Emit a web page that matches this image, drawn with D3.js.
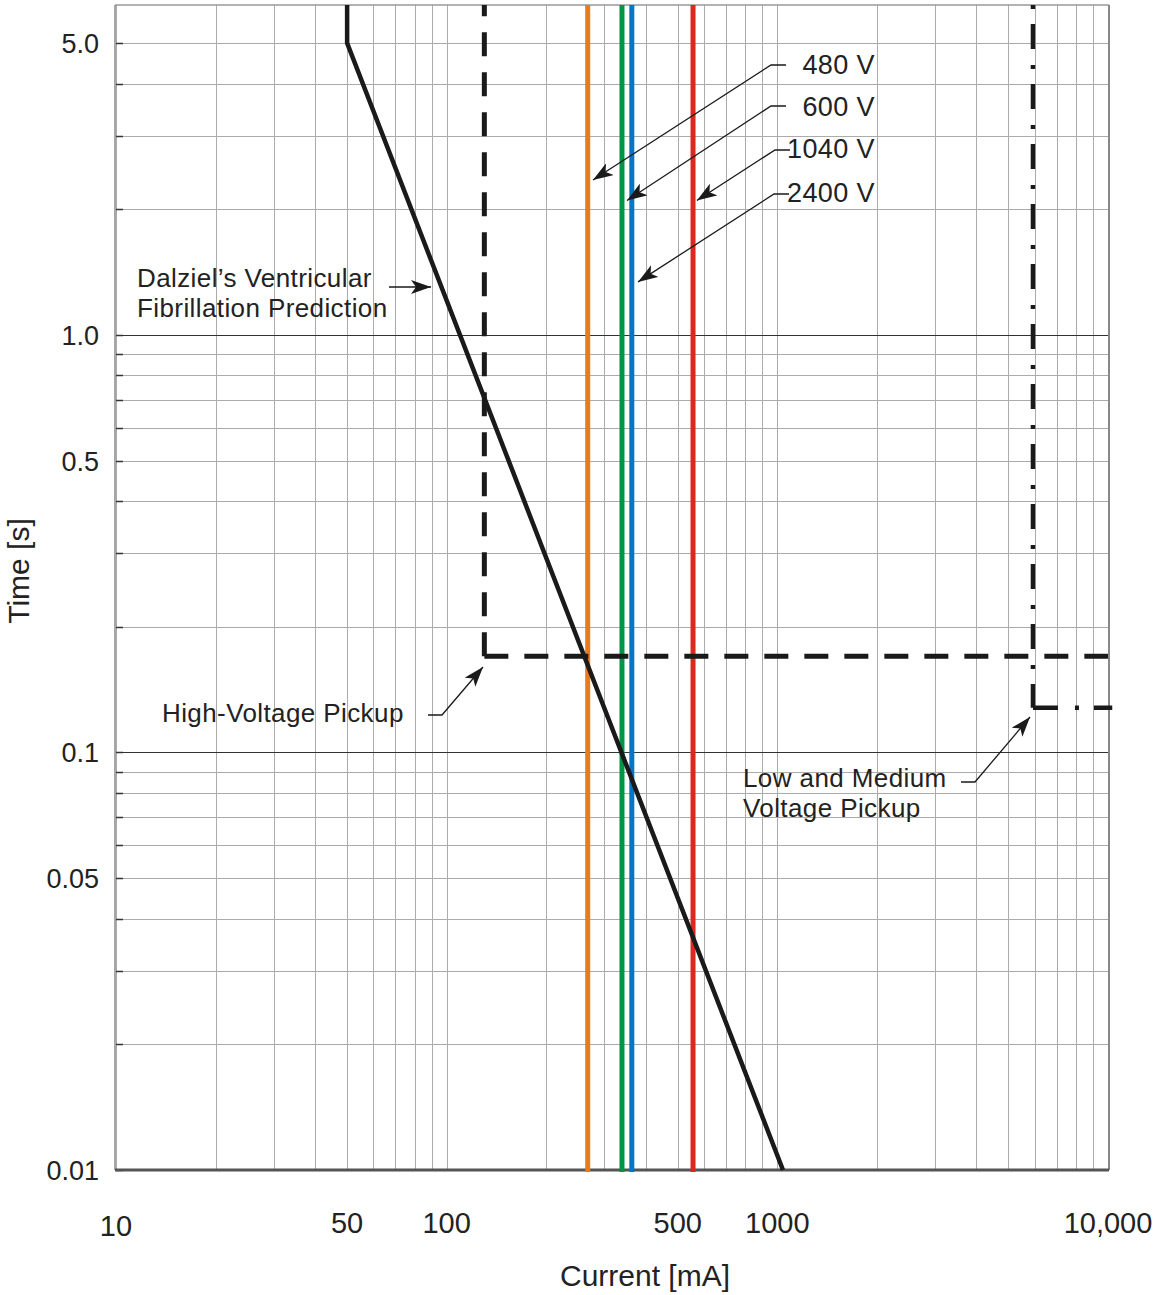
<!DOCTYPE html>
<meta charset="utf-8">
<style>
body { margin: 0; background: #fff; font-family: "Liberation Sans", Arial, sans-serif; }
svg { display: block; }
.tick-label { fill: #222; }
.note { font-size: 26px; fill: #222; letter-spacing: 0.4px; }
.grid line { stroke: #ababab; stroke-width: 1; shape-rendering: crispEdges; }
.grid line.major { stroke: #333; }
</style>
<div id="chart"></div>
<script src="https://cdn.jsdelivr.net/npm/d3@7"></script>
<script>
var WIDTH = 1156, HEIGHT = 1295;

// time (s) axis ticks, current (mA) axis ticks
var yTickValues = [0.01, 0.05, 0.1, 0.5, 1.0, 5.0];
var yTickText = ["0.01", "0.05", "0.1", "0.5", "1.0", "5.0"];
var xTickValues = [10, 50, 100, 500, 1000, 10000];
var xTickText = ["10", "50", "100", "500", "1000", "10,000"];

// Dalziel's ventricular fibrillation prediction [mA, s]
var dalziel = [[50, 6.17], [50, 5.0], [1040, 0.01]];
// pickup settings: top, corner, right end
var hvPickup = [[130, 6.17], [130, 0.17], [10000, 0.17]];
var lmvPickup = [[5930, 6.17], [5930, 0.128], [10300, 0.128]];

// fault currents per system voltage
var voltCurrents = [267, 339, 363, 556];
var voltColors = ["#ea7a1c", "#009444", "#0076c6", "#dc281e"];
var voltLabels = ["480 V", "600 V", "1040 V", "2400 V"];
// where each label's arrow points [mA, s]
var voltArrowTips = [[277, 2.35], [351, 2.1], [571, 2.1], [379, 1.34]];

var svg = d3.select("#chart").append("svg")
    .attr("width", WIDTH)
    .attr("height", HEIGHT);

var x = d3.scaleLog().domain([10, 10000]).range([116, 1108]);
var y = d3.scaleLog().domain([0.01, 6.17]).range([1170, 5]);

var defs = svg.append("defs");
defs.append("marker")
    .attr("id", "arrow")
    .attr("viewBox", "0 0 20 14")
    .attr("refX", 20).attr("refY", 7)
    .attr("markerWidth", 20).attr("markerHeight", 14)
    .attr("markerUnits", "userSpaceOnUse")
    .attr("orient", "auto")
  .append("path")
    .attr("d", "M0,0 L20,7 L0,14 L5,7 Z")
    .attr("fill", "#1a1a1a");

// grid
var xGrid = [], yGrid = [];
[10, 100, 1000].forEach(function(p) {
  for (var i = 1; i < 10; i++) xGrid.push(i * p);
});
xGrid.push(10000);
[0.01, 0.1, 1].forEach(function(p) {
  for (var i = 1; i < 10; i++) if (i * p <= 5.0001) yGrid.push(+(i * p).toFixed(3));
});

var grid = svg.append("g").attr("class", "grid");
grid.selectAll(".vx").data(xGrid).enter().append("line")
    .attr("x1", d => Math.round(x(d)) + 0.5).attr("x2", d => Math.round(x(d)) + 0.5)
    .attr("y1", y.range()[1]).attr("y2", y.range()[0]);
grid.selectAll(".hy").data(yGrid).enter().append("line")
    .attr("class", d => (d === 1 || d === 0.1) ? "major" : null)
    .attr("x1", x.range()[0]).attr("x2", x.range()[1])
    .attr("y1", d => Math.round(y(d)) + 0.5).attr("y2", d => Math.round(y(d)) + 0.5);

// small tick marks on left edge
svg.append("g").selectAll("line").data(yGrid).enter().append("line")
    .attr("x1", x.range()[0]).attr("x2", x.range()[0] + 7)
    .attr("y1", d => Math.round(y(d)) + 0.5).attr("y2", d => Math.round(y(d)) + 0.5)
    .attr("stroke", "#333").attr("stroke-width", 1.5);

// frame
var fr = svg.append("g").attr("fill", "none");
fr.append("line").attr("x1", 115).attr("x2", 115).attr("y1", 5).attr("y2", 1170).attr("stroke", "#888").attr("stroke-width", 1.5);
fr.append("line").attr("x1", 115).attr("x2", 1109).attr("y1", 5).attr("y2", 5).attr("stroke", "#999").attr("stroke-width", 1.5);
fr.append("line").attr("x1", 1109).attr("x2", 1109).attr("y1", 5).attr("y2", 1170).attr("stroke", "#888").attr("stroke-width", 2);
fr.append("line").attr("x1", 115).attr("x2", 1109).attr("y1", 1170).attr("y2", 1170).attr("stroke", "#555").attr("stroke-width", 3);

var line = d3.line().x(d => x(d[0])).y(d => y(d[1]));

// voltage lines
svg.append("g").selectAll("line").data(voltCurrents).enter().append("line")
    .attr("x1", d => x(d)).attr("x2", d => x(d))
    .attr("y1", y.range()[1]).attr("y2", y.range()[0] + 2)
    .attr("stroke", (d, i) => voltColors[i])
    .attr("stroke-width", 5);

// high-voltage pickup: dashes start at the corner in both directions
[[hvPickup[1], hvPickup[0]], [hvPickup[1], hvPickup[2]]].forEach(function(seg) {
  svg.append("path").datum(seg)
      .attr("d", line).attr("fill", "none")
      .attr("stroke", "#1a1a1a").attr("stroke-width", 5)
      .attr("stroke-dasharray", "24,16");
});
// low/medium voltage pickup (dash-dot)
svg.append("path").datum([lmvPickup[0], lmvPickup[1]])
    .attr("d", line).attr("fill", "none")
    .attr("stroke", "#1a1a1a").attr("stroke-width", 4.5)
    .attr("stroke-dasharray", "4,15,25,16");
svg.append("path").datum([lmvPickup[1], lmvPickup[2]])
    .attr("d", line).attr("fill", "none")
    .attr("stroke", "#1a1a1a").attr("stroke-width", 4.5)
    .attr("stroke-dasharray", "25,17,4,15");

// Dalziel curve
svg.append("path").datum(dalziel)
    .attr("d", line).attr("fill", "none")
    .attr("stroke", "#1a1a1a").attr("stroke-width", 4.5)
    .attr("stroke-linejoin", "miter");

// y tick labels
svg.append("g").selectAll("text").data(yTickValues).enter().append("text")
    .attr("class", "tick-label")
    .attr("x", 99).attr("y", d => y(d) + 10)
    .attr("text-anchor", "end")
    .style("font-size", "27px")
    .text((d, i) => yTickText[i]);

// x tick labels
svg.append("g").selectAll("text").data(xTickValues).enter().append("text")
    .attr("class", "tick-label")
    .attr("x", d => x(d)).attr("y", (d, i) => i === 0 ? 1236 : 1233)
    .attr("text-anchor", "middle")
    .style("font-size", "29px")
    .text((d, i) => xTickText[i]);

// axis titles
svg.append("text").attr("class", "tick-label")
    .attr("transform", "translate(29,571) rotate(-90)")
    .attr("text-anchor", "middle").style("font-size", "30px")
    .text("Time [s]");
svg.append("text").attr("class", "tick-label")
    .attr("x", 645).attr("y", 1286)
    .attr("text-anchor", "middle").style("font-size", "30px")
    .text("Current [mA]");

// voltage labels with leader arrows
var labelY = [74, 116, 158, 202];
var leadY = [65, 106, 150, 194];
var leadX0 = [771, 771, 775, 774];
var va = svg.append("g");
voltLabels.forEach(function(t, i) {
  va.append("text").attr("class", "note")
      .attr("x", 875).attr("y", labelY[i])
      .attr("text-anchor", "end").style("font-size", "27px")
      .text(t);
  va.append("path")
      .attr("d", "M" + (leadX0[i] + 15) + "," + leadY[i] + "H" + leadX0[i] +
                 "L" + x(voltArrowTips[i][0]) + "," + y(voltArrowTips[i][1]))
      .attr("fill", "none").attr("stroke", "#1a1a1a").attr("stroke-width", 1.3)
      .attr("marker-end", "url(#arrow)");
});

// annotations
var notes = svg.append("g");
notes.append("text").attr("class", "note").attr("x", 137).attr("y", 287).text("Dalziel\u2019s Ventricular");
notes.append("text").attr("class", "note").attr("x", 137).attr("y", 317).text("Fibrillation Prediction");
notes.append("path").attr("d", "M389,287H431")
    .attr("stroke", "#1a1a1a").attr("stroke-width", 1.3).attr("marker-end", "url(#arrow)");

notes.append("text").attr("class", "note").attr("x", 162).attr("y", 722).text("High-Voltage Pickup");
notes.append("path").attr("d", "M428,715H442L483,667")
    .attr("fill", "none").attr("stroke", "#1a1a1a").attr("stroke-width", 1.3).attr("marker-end", "url(#arrow)");

notes.append("text").attr("class", "note").attr("x", 743).attr("y", 787).text("Low and Medium");
notes.append("text").attr("class", "note").attr("x", 743).attr("y", 817).text("Voltage Pickup");
notes.append("path").attr("d", "M961,782H975L1030,717")
    .attr("fill", "none").attr("stroke", "#1a1a1a").attr("stroke-width", 1.3).attr("marker-end", "url(#arrow)");
</script>
